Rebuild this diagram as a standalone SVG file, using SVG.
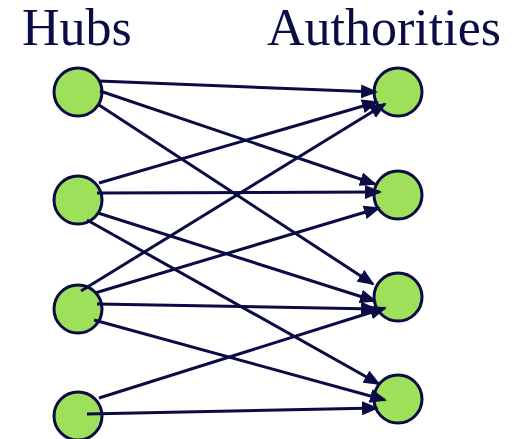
<svg xmlns="http://www.w3.org/2000/svg" width="516" height="439" viewBox="0 0 516 439">
<style>
.node{fill:#9ee05a;stroke:#0b0b45;stroke-width:3}
.edge{stroke:#0b0b45;stroke-width:3;fill:none;marker-end:url(#arr)}
.title{font-family:"Liberation Serif","Times New Roman",serif;font-size:52px;fill:#0b0b45}
</style>
<defs>
<marker id="arr" markerUnits="userSpaceOnUse" markerWidth="18" markerHeight="14" refX="15" refY="7" orient="auto" viewBox="0 0 18 14">
<path d="M0,0 L17,7 L0,14 z" fill="#0b0b45"/>
</marker>
</defs>
<rect width="516" height="439" fill="#ffffff"/>
<text class="title" x="22" y="45">Hubs</text>
<text class="title" x="267" y="45">Authorities</text>
<g id="hub1"><circle class="node" cx="78" cy="92" r="24"/></g>
<g id="hub2"><circle class="node" cx="78" cy="200" r="24"/></g>
<g id="hub3"><circle class="node" cx="78" cy="309" r="24"/></g>
<g id="hub4"><circle class="node" cx="78" cy="416" r="24"/></g>
<g id="auth1"><circle class="node" cx="398" cy="92" r="24"/></g>
<g id="auth2"><circle class="node" cx="398" cy="195" r="24"/></g>
<g id="auth3"><circle class="node" cx="398" cy="297" r="24"/></g>
<g id="auth4"><circle class="node" cx="398" cy="399" r="24"/></g>
<g id="connectors">
<line class="edge" x1="99" y1="81" x2="376" y2="92"/>
<line class="edge" x1="100" y1="91" x2="375" y2="184"/>
<line class="edge" x1="99" y1="105" x2="373" y2="284"/>
<line class="edge" x1="99" y1="183" x2="377" y2="102"/>
<line class="edge" x1="97" y1="193" x2="380" y2="192"/>
<line class="edge" x1="98" y1="213" x2="375" y2="301"/>
<line class="edge" x1="87" y1="220" x2="379" y2="384"/>
<line class="edge" x1="81" y1="291" x2="385" y2="104"/>
<line class="edge" x1="95" y1="293" x2="379" y2="208"/>
<line class="edge" x1="97" y1="304" x2="376" y2="309"/>
<line class="edge" x1="94" y1="320" x2="385" y2="400"/>
<line class="edge" x1="99" y1="398" x2="385" y2="308"/>
<line class="edge" x1="87" y1="414" x2="377" y2="408"/>
</g>
</svg>
